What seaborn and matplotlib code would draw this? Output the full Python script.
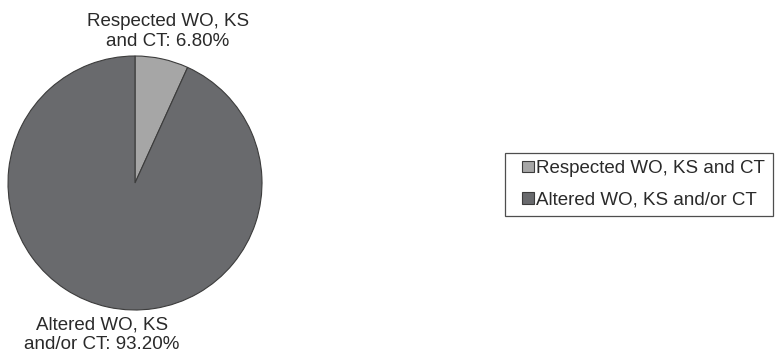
import matplotlib
matplotlib.use("Agg")
import matplotlib.pyplot as plt
import seaborn as sns
from matplotlib.legend_handler import HandlerPatch
from matplotlib.patches import Rectangle

# Data
categories = ["Respected WO, KS and CT", "Altered WO, KS and/or CT"]
pie_labels = ["Respected WO, KS\nand CT: 6.80%", "Altered WO, KS\nand/or CT: 93.20%"]
shares = [6.80, 93.20]
colors = ["#a6a6a6", "#696a6d"]

sns.set_style("white")
plt.rcParams["font.family"] = ["Liberation Sans", "DejaVu Sans"]


def square_right(legend, orig_handle, xdescent, ydescent, width, height, fontsize):
    # small square sitting at the right end of the handle box
    return Rectangle((-xdescent + width - height, -ydescent), height, height)


fig = plt.figure(figsize=(7.8, 3.62), dpi=100)
ax = fig.add_axes([8 / 780, 52 / 362, 254 / 780, 254 / 362])

wedges, texts = ax.pie(
    shares,
    labels=pie_labels,
    colors=sns.color_palette(colors),
    startangle=90,
    counterclock=False,
    labeldistance=1.22,
    wedgeprops=dict(edgecolor="#3c3c3c", linewidth=0.8),
    textprops=dict(fontsize=13.5, color="#2a2a2a"),
)
for t in texts:
    t.set_ha("center")
    t.set_va("center")
    t.set_multialignment("center")
    t.set_clip_on(False)

ax.set_xlim(-1, 1)
ax.set_ylim(-1, 1)
ax.set_aspect("equal")
ax.axis("off")

leg = fig.legend(
    wedges,
    categories,
    loc="upper left",
    bbox_to_anchor=(505 / 780, 1 - 153 / 362),
    fontsize=13.5,
    frameon=True,
    fancybox=False,
    handlelength=1.15,
    handleheight=0.6,
    handletextpad=0.15,
    borderpad=0.38,
    labelspacing=0.76,
    borderaxespad=0,
    handler_map={w: HandlerPatch(patch_func=square_right) for w in wedges},
)
leg.get_frame().set_edgecolor("#222222")
leg.get_frame().set_linewidth(0.9)
for txt in leg.get_texts():
    txt.set_color("#2a2a2a")

fig.savefig("out.png", dpi=100)
